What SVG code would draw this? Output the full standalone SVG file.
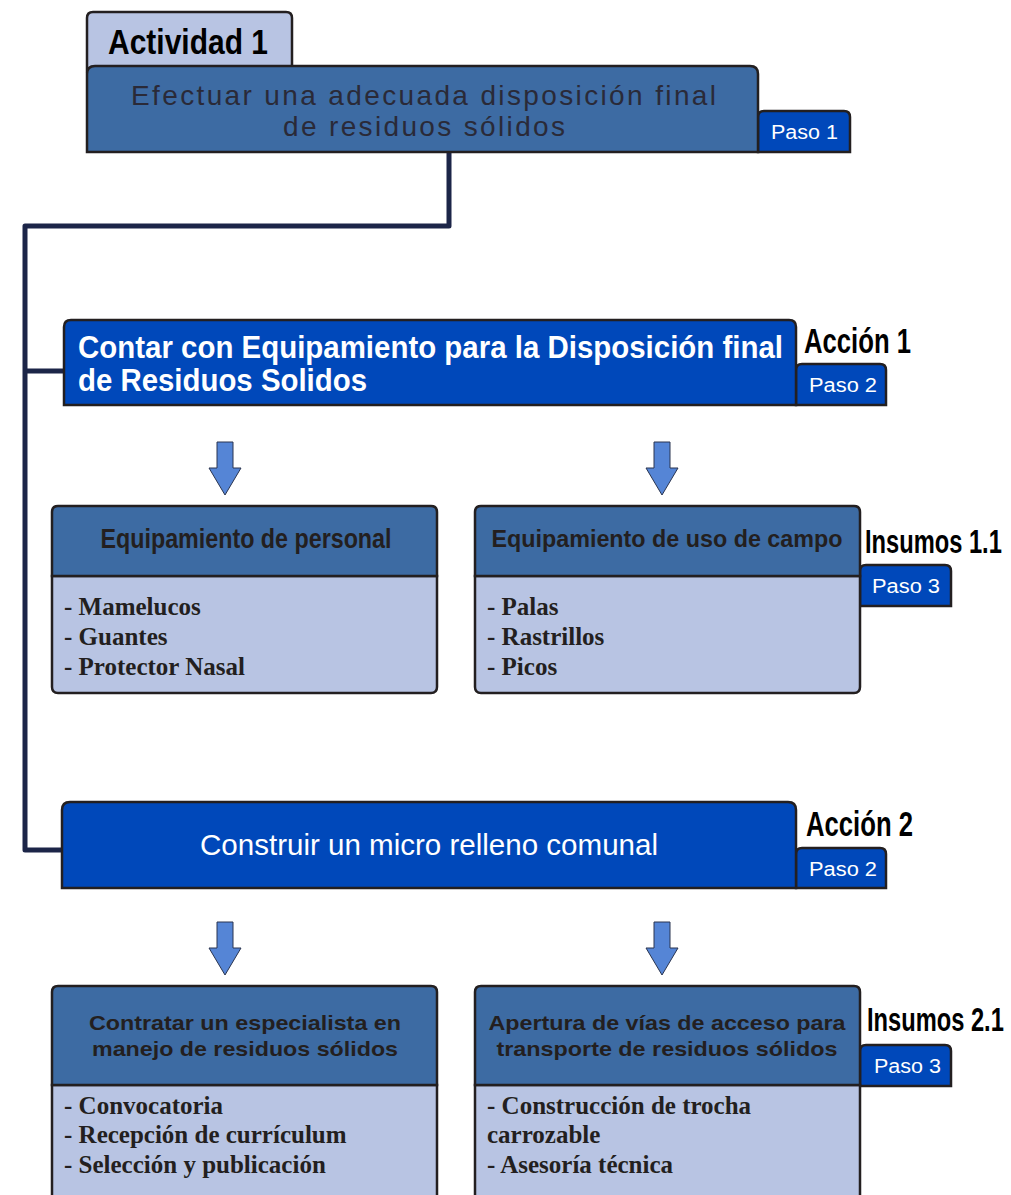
<svg xmlns="http://www.w3.org/2000/svg" width="1011" height="1195" viewBox="0 0 1011 1195">
<style>
.sk{stroke:#231f20;stroke-width:2.5}
.lt{fill:#b8c4e3}
.md{fill:#3d6ba3}
.bl{fill:#0048ba}
.cond{font-family:"Liberation Sans",Arial,sans-serif;font-weight:bold;fill:#000}
.paso{font-family:"Liberation Sans",Arial,sans-serif;font-size:20px;fill:#fff}
.hdr{font-family:"Liberation Sans",Arial,sans-serif;font-weight:bold;fill:#231f20;text-anchor:middle}
.item{font-family:"Liberation Serif","Times New Roman",serif;font-weight:bold;font-size:25px;fill:#231f20}
.arr{fill:#5585d6;stroke:#2a3550;stroke-width:1}
.conn{fill:none;stroke:#1c2548;stroke-width:5;stroke-linejoin:round}
.ttl{font-family:"Liberation Sans",Arial,sans-serif;font-size:28px;fill:#2a2a38}
</style>
<rect width="1011" height="1195" fill="#fff"/>
<g id="connectors">
<path class="conn" d="M449,152 V226 H25 V850 H62 M25,371 H64"/>
<path class="arr" d="M217,442 H233 V468 H241 L225,495 L209,468 H217 Z"/>
<path class="arr" d="M654,442 H670 V468 H678 L662,495 L646,468 H654 Z"/>
<path class="arr" d="M217,922 H233 V948 H241 L225,975 L209,948 H217 Z"/>
<path class="arr" d="M654,922 H670 V948 H678 L662,975 L646,948 H654 Z"/>
</g>
<g id="actividad1">
<path class="lt sk" d="M87,72 V18 Q87,12 93,12 H286 Q292,12 292,18 V72 Z"/>
<text class="cond" x="108" y="54" font-size="35" textLength="160" lengthAdjust="spacingAndGlyphs">Actividad 1</text>
<path class="bl sk" d="M758,152 V117 Q758,111 764,111 H844 Q850,111 850,117 V152 Z"/>
<text class="paso" x="771" y="139" textLength="67" lengthAdjust="spacingAndGlyphs">Paso 1</text>
<path class="md sk" d="M87,152 V74 Q87,66 95,66 H750 Q758,66 758,74 V152 Z"/>
<text class="ttl" x="131" y="105" textLength="585" lengthAdjust="spacing">Efectuar una adecuada disposición final</text>
<text class="ttl" x="283" y="136" textLength="282" lengthAdjust="spacing">de residuos sólidos</text>
</g>
<g id="accion1">
<path class="bl sk" d="M796,405 V370 Q796,364 802,364 H880 Q886,364 886,370 V405 Z"/>
<text class="paso" x="809" y="392" textLength="68" lengthAdjust="spacingAndGlyphs">Paso 2</text>
<path class="bl sk" d="M64,405 V327 Q64,320 71,320 H789 Q796,320 796,327 V405 Z"/>
<text class="cond" x="78" y="358" font-size="31" style="fill:#fff" textLength="705" lengthAdjust="spacingAndGlyphs">Contar con Equipamiento para la Disposición final</text>
<text class="cond" x="78" y="391" font-size="31" style="fill:#fff" textLength="289" lengthAdjust="spacingAndGlyphs">de Residuos Solidos</text>
<text class="cond" x="804" y="353" font-size="35" textLength="107" lengthAdjust="spacingAndGlyphs">Acción 1</text>
</g>
<g id="equip-personal">
<path class="lt sk" d="M52,576 H437 V687 Q437,693 431,693 H58 Q52,693 52,687 Z"/>
<path class="md sk" d="M52,576 V512 Q52,506 58,506 H431 Q437,506 437,512 V576 Z"/>
<text class="hdr" x="246" y="548" style="font-size:27px" textLength="291" lengthAdjust="spacingAndGlyphs">Equipamiento de personal</text>
<text class="item" x="64" y="615">- Mamelucos</text>
<text class="item" x="64" y="645">- Guantes</text>
<text class="item" x="64" y="675">- Protector Nasal</text>
</g>
<g id="equip-campo">
<path class="bl sk" d="M860,606 V571 Q860,565 866,565 H945 Q951,565 951,571 V606 Z"/>
<text class="paso" x="872" y="593" textLength="68" lengthAdjust="spacingAndGlyphs">Paso 3</text>
<path class="lt sk" d="M475,576 H860 V687 Q860,693 854,693 H481 Q475,693 475,687 Z"/>
<path class="md sk" d="M475,576 V512 Q475,506 481,506 H854 Q860,506 860,512 V576 Z"/>
<text class="hdr" x="667" y="547" style="font-size:23px" textLength="351" lengthAdjust="spacingAndGlyphs">Equipamiento de uso de campo</text>
<text class="item" x="487" y="615">- Palas</text>
<text class="item" x="487" y="645">- Rastrillos</text>
<text class="item" x="487" y="675">- Picos</text>
<text class="cond" transform="translate(865,553) scale(0.72,1)" x="0" y="0" font-size="33" textLength="190" lengthAdjust="spacingAndGlyphs">Insumos 1.1</text>
</g>
<g id="accion2">
<path class="bl sk" d="M796,888 V854 Q796,848 802,848 H880 Q886,848 886,854 V888 Z"/>
<text class="paso" x="809" y="876" textLength="68" lengthAdjust="spacingAndGlyphs">Paso 2</text>
<path class="bl sk" d="M62,888 V810 Q62,802 70,802 H788 Q796,802 796,810 V888 Z"/>
<text font-family="'Liberation Sans',Arial,sans-serif" font-size="29" fill="#fff" x="200" y="855" textLength="458" lengthAdjust="spacingAndGlyphs">Construir un micro relleno comunal</text>
<text class="cond" x="806" y="836" font-size="35" textLength="107" lengthAdjust="spacingAndGlyphs">Acción 2</text>
</g>
<g id="especialista">
<path class="lt sk" d="M52,1085 H437 V1200 H52 Z"/>
<path class="md sk" d="M52,1085 V992 Q52,986 58,986 H431 Q437,986 437,992 V1085 Z"/>
<text class="hdr" x="245" y="1030" style="font-size:21px" textLength="312" lengthAdjust="spacingAndGlyphs">Contratar un especialista en</text>
<text class="hdr" x="245" y="1056" style="font-size:21px" textLength="306" lengthAdjust="spacingAndGlyphs">manejo de residuos sólidos</text>
<text class="item" x="64" y="1114">- Convocatoria</text>
<text class="item" x="64" y="1143">- Recepción de currículum</text>
<text class="item" x="64" y="1173">- Selección y publicación</text>
</g>
<g id="apertura">
<path class="bl sk" d="M860,1086 V1051 Q860,1045 866,1045 H945 Q951,1045 951,1051 V1086 Z"/>
<text class="paso" x="874" y="1073" textLength="67" lengthAdjust="spacingAndGlyphs">Paso 3</text>
<path class="lt sk" d="M475,1085 H860 V1200 H475 Z"/>
<path class="md sk" d="M475,1085 V992 Q475,986 481,986 H854 Q860,986 860,992 V1085 Z"/>
<text class="hdr" x="667" y="1030" style="font-size:21px" textLength="357" lengthAdjust="spacingAndGlyphs">Apertura de vías de acceso para</text>
<text class="hdr" x="667" y="1056" style="font-size:21px" textLength="341" lengthAdjust="spacingAndGlyphs">transporte de residuos sólidos</text>
<text class="item" x="487" y="1114">- Construcción de trocha</text>
<text class="item" x="487" y="1143">carrozable</text>
<text class="item" x="487" y="1173">- Asesoría técnica</text>
<text class="cond" transform="translate(867,1031) scale(0.72,1)" x="0" y="0" font-size="33" textLength="190" lengthAdjust="spacingAndGlyphs">Insumos 2.1</text>
</g>
</svg>
